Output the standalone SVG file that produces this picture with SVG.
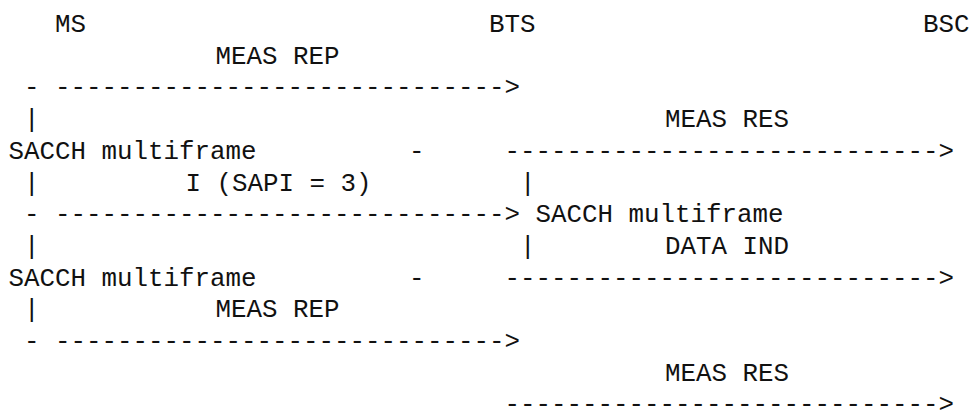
<svg xmlns="http://www.w3.org/2000/svg" width="969" height="412" viewBox="0 0 969 412">
<style>
text { font-family: "Liberation Mono", "DejaVu Sans Mono", monospace; font-size: 25.83px; fill: #111; }
</style>
<rect width="969" height="412" fill="#ffffff"/>
<g id="node-ms"><text x="54.95" y="32">MS</text></g>
<g id="node-bts"><text x="488.95" y="32">BTS</text></g>
<g id="node-bsc"><text x="922.95" y="32">BSC</text></g>
<g id="connectors">
<text x="23.95" y="95.4">- -----------------------------&gt;</text>
<text x="409" y="158.8">-</text>
<text x="504.45" y="158.8">----------------------------&gt;</text>
<text x="23.95" y="222.2">- -----------------------------&gt;</text>
<text x="409" y="285.6">-</text>
<text x="504.45" y="285.6">----------------------------&gt;</text>
<text x="23.95" y="349">- -----------------------------&gt;</text>
<text x="504.45" y="411.5">----------------------------&gt;</text>
</g>
<g id="labels">
<text x="215.5" y="63.7">MEAS REP</text>
<text x="665" y="127.1">MEAS RES</text>
<text x="185.5" y="190.5">I (SAPI = 3)</text>
<text x="665" y="253.9">DATA IND</text>
<text x="215.5" y="317.3">MEAS REP</text>
<text x="665" y="380.7">MEAS RES</text>
</g>
<g id="lifelines">
<text x="23.95" y="127.1">|</text>
<text x="8.45" y="158.8">SACCH multiframe</text>
<text x="23.95" y="190.5">|</text>
<text x="519.95" y="190.5">|</text>
<text x="535.45" y="222.2">SACCH multiframe</text>
<text x="23.95" y="253.9">|</text>
<text x="519.95" y="253.9">|</text>
<text x="8.45" y="285.6">SACCH multiframe</text>
<text x="23.95" y="317.3">|</text>
</g>
</svg>
